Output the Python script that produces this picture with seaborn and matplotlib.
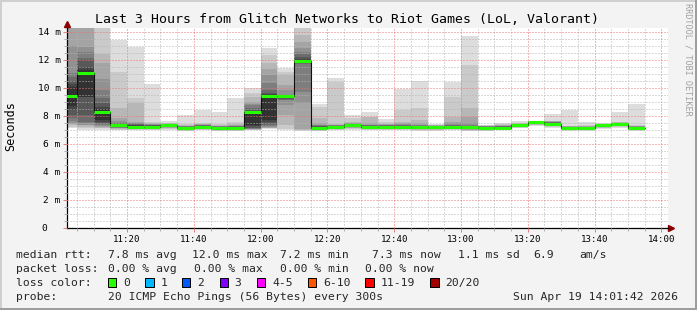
import numpy as np
import pandas as pd
import matplotlib
matplotlib.use("Agg")
import matplotlib.pyplot as plt
import seaborn as sns
from matplotlib.patches import Rectangle
from matplotlib.ticker import MultipleLocator, FixedLocator
from matplotlib.transforms import blended_transform_factory

sns.set_theme(style="white")
plt.rcParams['font.family'] = ['DejaVu Sans Mono', 'DejaVu Sans']

# ---------------- data ----------------
title = "Last 3 Hours from Glitch Networks to Riot Games (LoL, Valorant)"
# 5-minute intervals, minutes after 11:00
interval_start_min = list(range(0, 175, 5))
median_ms = [9.43, 11.08, 8.33, 7.35, 7.27, 7.27, 7.35, 7.20, 7.27, 7.20, 7.20, 8.28,
             9.43, 9.43, 11.94, 7.20, 7.27, 7.39, 7.27, 7.27, 7.27, 7.23, 7.23, 7.27,
             7.23, 7.20, 7.20, 7.35, 7.56, 7.47, 7.20, 7.20, 7.35, 7.44, 7.20]

# 20 ping rtts (ms) per interval
p_1100 = [7.15, 7.25, 7.35, 7.45, 7.55, 7.7, 7.86, 8.1, 8.45, 8.75, 10.1, 10.3, 10.5, 10.8, 11.1, 13.0, 14.6, 14.8, 15.0, 15.5]
p_1105 = [7.0, 7.15, 7.25, 7.35, 7.4, 7.5, 7.62, 8.1, 9.38, 9.4, 11.3, 11.55, 12.0, 12.2, 12.6, 12.98, 14.5, 14.6, 14.8, 15.0]
p_1110 = [7.05, 7.15, 7.2, 7.25, 7.3, 7.38, 7.45, 7.5, 7.6, 7.74, 8.5, 8.69, 8.93, 9.3, 9.9, 10.7, 11.8, 12.45, 14.5, 15.0]
p_1115 = [7.0, 7.05, 7.1, 7.15, 7.18, 7.2, 7.22, 7.25, 7.28, 7.3, 7.4, 7.42, 7.45, 7.5, 7.55, 7.7, 7.86, 8.57, 11.2, 13.45]
p_1120 = [7.0, 7.05, 7.1, 7.12, 7.15, 7.18, 7.2, 7.22, 7.24, 7.25, 7.32, 7.35, 7.4, 7.45, 7.5, 7.55, 7.62, 8.93, 9.29, 12.98]
p_1125 = [7.0, 7.05, 7.1, 7.12, 7.15, 7.18, 7.2, 7.22, 7.24, 7.25, 7.3, 7.32, 7.35, 7.38, 7.4, 7.42, 7.45, 7.5, 7.62, 10.3]
p_1130 = [7.05, 7.1, 7.15, 7.2, 7.22, 7.25, 7.28, 7.3, 7.32, 7.34, 7.37, 7.38, 7.4, 7.41, 7.42, 7.44, 7.46, 7.5, 7.55, 7.69]
p_1135 = [6.95, 6.98, 7.0, 7.03, 7.05, 7.08, 7.1, 7.12, 7.15, 7.18, 7.22, 7.24, 7.25, 7.26, 7.28, 7.3, 7.32, 7.35, 7.45, 8.08]
p_1140 = [7.0, 7.05, 7.1, 7.12, 7.15, 7.18, 7.2, 7.22, 7.24, 7.25, 7.3, 7.32, 7.34, 7.36, 7.38, 7.4, 7.42, 7.45, 7.55, 8.45]
p_1145 = [6.95, 6.98, 7.0, 7.03, 7.05, 7.08, 7.1, 7.12, 7.15, 7.18, 7.22, 7.24, 7.25, 7.26, 7.28, 7.3, 7.32, 7.35, 7.45, 8.29]
p_1150 = [6.95, 6.98, 7.0, 7.03, 7.05, 7.08, 7.1, 7.12, 7.15, 7.18, 7.22, 7.24, 7.25, 7.28, 7.3, 7.32, 7.35, 7.45, 7.62, 9.29]
p_1155 = [7.0, 7.02, 7.05, 7.08, 7.1, 7.12, 7.15, 7.2, 7.3, 7.38, 8.29, 8.35, 8.45, 8.6, 8.81, 8.9, 9.05, 9.4, 9.7, 10.05]
p_1200 = [7.1, 7.14, 7.17, 7.2, 7.25, 7.3, 7.38, 7.45, 7.6, 7.74, 9.52, 9.6, 9.7, 9.88, 10.36, 10.95, 11.4, 11.8, 12.38, 12.9]
p_1205 = [7.0, 7.1, 7.38, 8.1, 8.81, 9.15, 9.2, 9.25, 9.3, 9.38, 9.45, 9.47, 9.49, 9.5, 9.52, 9.88, 10.24, 10.95, 11.2, 11.43]
p_1210 = [6.95, 7.0, 7.05, 7.1, 8.93, 9.76, 11.75, 11.8, 11.85, 11.88, 12.0, 12.1, 12.26, 12.45, 12.62, 12.86, 13.33, 13.8, 14.6, 15.0]
p_1215 = [6.95, 6.98, 7.0, 7.02, 7.05, 7.08, 7.1, 7.12, 7.15, 7.18, 7.22, 7.25, 7.28, 7.3, 7.35, 7.4, 7.5, 7.86, 8.7, 8.88]
p_1220 = [7.0, 7.05, 7.1, 7.12, 7.15, 7.18, 7.2, 7.22, 7.24, 7.25, 7.28, 7.3, 7.32, 7.34, 7.36, 7.38, 7.4, 7.45, 10.48, 10.76]
p_1225 = [7.05, 7.1, 7.15, 7.2, 7.22, 7.25, 7.28, 7.3, 7.33, 7.36, 7.42, 7.44, 7.45, 7.46, 7.48, 7.5, 7.55, 7.6, 7.86, 8.1]
p_1230 = [7.0, 7.05, 7.1, 7.12, 7.15, 7.18, 7.2, 7.22, 7.24, 7.25, 7.3, 7.32, 7.34, 7.36, 7.38, 7.4, 7.5, 7.95, 7.98, 8.33]
p_1235 = [7.0, 7.05, 7.1, 7.12, 7.15, 7.18, 7.2, 7.22, 7.24, 7.25, 7.3, 7.32, 7.34, 7.36, 7.38, 7.4, 7.42, 7.45, 7.6, 7.81]
p_1240 = [7.0, 7.05, 7.1, 7.12, 7.15, 7.18, 7.2, 7.22, 7.24, 7.25, 7.3, 7.32, 7.34, 7.36, 7.38, 7.42, 7.5, 7.62, 8.45, 9.93]
p_1245 = [6.95, 7.0, 7.05, 7.08, 7.1, 7.12, 7.15, 7.18, 7.2, 7.22, 7.25, 7.28, 7.3, 7.33, 7.36, 7.4, 7.5, 7.74, 8.57, 10.52]
p_1250 = [6.95, 7.0, 7.05, 7.08, 7.1, 7.12, 7.15, 7.18, 7.2, 7.22, 7.25, 7.26, 7.28, 7.3, 7.32, 7.34, 7.36, 7.38, 7.4, 7.45]
p_1255 = [7.0, 7.05, 7.1, 7.12, 7.15, 7.18, 7.2, 7.22, 7.24, 7.25, 7.3, 7.32, 7.34, 7.36, 7.4, 7.5, 7.62, 7.98, 9.4, 10.48]
p_1300 = [6.95, 6.98, 7.0, 7.05, 7.08, 7.1, 7.12, 7.15, 7.18, 7.2, 7.25, 7.28, 7.3, 7.34, 7.4, 7.5, 7.98, 8.57, 11.67, 13.76]
p_1305 = [6.95, 6.97, 6.99, 7.0, 7.02, 7.05, 7.08, 7.1, 7.14, 7.17, 7.22, 7.24, 7.25, 7.26, 7.28, 7.3, 7.32, 7.34, 7.36, 7.38]
p_1310 = [7.0, 7.05, 7.1, 7.12, 7.14, 7.16, 7.17, 7.18, 7.19, 7.2, 7.22, 7.24, 7.26, 7.28, 7.3, 7.32, 7.35, 7.38, 7.42, 7.5]
p_1315 = [7.15, 7.2, 7.22, 7.25, 7.27, 7.28, 7.3, 7.32, 7.33, 7.34, 7.37, 7.39, 7.4, 7.42, 7.44, 7.46, 7.48, 7.5, 7.55, 7.67]
p_1320 = [7.3, 7.35, 7.4, 7.42, 7.44, 7.46, 7.48, 7.5, 7.52, 7.54, 7.58, 7.59, 7.6, 7.61, 7.62, 7.63, 7.64, 7.65, 7.66, 7.68]
p_1325 = [7.2, 7.25, 7.3, 7.33, 7.36, 7.38, 7.4, 7.42, 7.44, 7.45, 7.5, 7.52, 7.55, 7.58, 7.6, 7.62, 7.64, 7.66, 7.7, 8.14]
p_1330 = [6.95, 7.0, 7.05, 7.08, 7.1, 7.12, 7.15, 7.17, 7.18, 7.19, 7.22, 7.23, 7.24, 7.25, 7.26, 7.27, 7.28, 7.29, 7.3, 8.45]
p_1335 = [6.95, 7.0, 7.05, 7.08, 7.1, 7.12, 7.15, 7.17, 7.18, 7.19, 7.21, 7.22, 7.23, 7.24, 7.25, 7.26, 7.28, 7.3, 7.35, 7.57]
p_1340 = [7.1, 7.15, 7.2, 7.22, 7.25, 7.27, 7.29, 7.3, 7.32, 7.33, 7.37, 7.38, 7.39, 7.4, 7.41, 7.42, 7.43, 7.44, 7.46, 7.5]
p_1345 = [7.2, 7.25, 7.3, 7.33, 7.36, 7.38, 7.4, 7.41, 7.42, 7.43, 7.46, 7.47, 7.48, 7.49, 7.5, 7.52, 7.54, 7.56, 7.6, 8.3]
p_1350 = [6.95, 7.0, 7.05, 7.08, 7.1, 7.12, 7.15, 7.17, 7.18, 7.19, 7.22, 7.23, 7.24, 7.25, 7.26, 7.28, 7.3, 7.32, 7.36, 8.88]

pings = [p_1100, p_1105, p_1110, p_1115, p_1120, p_1125, p_1130, p_1135, p_1140, p_1145,
         p_1150, p_1155, p_1200, p_1205, p_1210, p_1215, p_1220, p_1225, p_1230, p_1235,
         p_1240, p_1245, p_1250, p_1255, p_1300, p_1305, p_1310, p_1315, p_1320, p_1325,
         p_1330, p_1335, p_1340, p_1345, p_1350]

x_tick_min = [20, 40, 60, 80, 100, 120, 140, 160, 180]
x_tick_labels = ["11:20", "11:40", "12:00", "12:20", "12:40", "13:00", "13:20", "13:40", "14:00"]
y_tick_ms = [0, 2, 4, 6, 8, 10, 12, 14]
y_tick_labels = ["0", "2 m", "4 m", "6 m", "8 m", "10 m", "12 m", "14 m"]

rtt_stats = ["7.8 ms avg", "12.0 ms max", "7.2 ms min", "7.3 ms now", "1.1 ms sd", "6.9", "am/s"]
loss_stats = ["0.00 % avg", "0.00 % max", "0.00 % min", "0.00 % now"]
loss_labels = ["0", "1", "2", "3", "4-5", "6-10", "11-19", "20/20"]
loss_colors = ["#26ff00", "#00b8ff", "#0059ff", "#7e00ff", "#ff00ff", "#ff5500", "#ff0000", "#a10000"]
probe_text = "20 ICMP Echo Pings (56 Bytes) every 300s"
stamp_text = "Sun Apr 19 14:01:42 2026"

# ---------------- figure ----------------
W, H = 697, 310
fig = plt.figure(figsize=(W / 100, H / 100), dpi=100, facecolor="#f3f3f3")

def fx(x):
    return x / W

def fy(y):
    return 1 - y / H

L, R, T, B = 67, 668, 28, 228.3
ax = fig.add_axes([fx(L), fy(B), (R - L) / W, (B - T) / H])
ax.set_facecolor("white")

starts = np.array(interval_start_min, dtype=float)
P = np.sort(np.array(pings, dtype=float), axis=1)
npings = P.shape[1]
half = npings // 2
for k in range(1, half + 1):
    g = int(190 / half * (half - k)) + 50
    col = "#%02x%02x%02x" % (g, g, g)
    lo = P[:, k - 1]
    hi = P[:, npings - k]
    ax.bar(starts, hi - lo, bottom=lo, width=5, align="edge", color=col,
           linewidth=0, antialiased=False, zorder=1)

med = np.array(median_ms)
med_df = pd.DataFrame({"t": np.append(starts, starts[-1] + 5), "rtt": np.append(med, med[-1])})
sns.lineplot(data=med_df, x="t", y="rtt", drawstyle="steps-post", color="#101010",
             lw=0.8, ax=ax, zorder=4)
ax.hlines(med, starts, starts + 5, colors=loss_colors[0], lw=2.2, zorder=5)

ax.set_xlim(2, 182)
ax.set_ylim(0, 14.31)
ax.set_xlabel("")
ax.set_ylabel("")

ax.xaxis.set_major_locator(FixedLocator(x_tick_min))
ax.xaxis.set_minor_locator(MultipleLocator(5))
ax.yaxis.set_major_locator(FixedLocator(y_tick_ms))
ax.yaxis.set_minor_locator(MultipleLocator(0.5))
ax.set_xticklabels(x_tick_labels)
ax.set_yticklabels([])
ax.set_axisbelow(False)
ax.grid(which="minor", color="#b4b4b4", ls=(0, (1, 2)), lw=0.72)
ax.grid(which="major", color="#f07070", ls=(0, (1, 2)), lw=0.72)

ax.tick_params(axis="both", which="both", direction="out", width=0.72)
ax.tick_params(axis="both", which="major", length=3, color="#e08080")
ax.tick_params(axis="both", which="minor", length=2.2, color="#b0b0b0")
ax.tick_params(axis="x", which="major", pad=1.5, labelsize=6.6, labelcolor="#000000")
ax.tick_params(axis="y", which="both", left=True)
ax.tick_params(axis="x", which="both", bottom=True)

for s in ["top", "right"]:
    ax.spines[s].set_visible(False)
for s in ["left", "bottom"]:
    ax.spines[s].set_color("black")
    ax.spines[s].set_linewidth(0.9)

# y tick labels (right aligned, "0" sits under the digit column)
ytr = blended_transform_factory(fig.transFigure, ax.transData)
for v, lab in zip(y_tick_ms, y_tick_labels):
    xr = 47.5 if lab == "0" else 60.5
    ax.text(fx(xr), v, lab, transform=ytr, ha="right", va="center",
            fontsize=6.8, color="black", clip_on=False)

# axis arrows
ax.plot([0, 0], [1.0, 1.02], transform=ax.transAxes, color="black", lw=0.9, clip_on=False)
ax.plot([0], [1.022], transform=ax.transAxes, marker="^", ms=4, color="#8b0000",
        clip_on=False, ls="none")
ax.plot([1.0, 1.006], [0, 0], transform=ax.transAxes, color="black", lw=0.9, clip_on=False)
ax.plot([1.005], [0], transform=ax.transAxes, marker=">", ms=4, color="#8b0000",
        clip_on=False, ls="none")

# texts
fig.text(fx(347), fy(23.3), title, ha="center", va="baseline", fontsize=9.5, color="black")
fig.text(fx(11), fy(126), "Seconds", rotation=90, ha="center", va="center", fontsize=8.5,
         color="black")
fig.text(fx(688), fy(59), "RRDTOOL / TOBI OETIKER", rotation=270, ha="center", va="center",
         fontsize=6.1, color="#a0a0a0")

LFS = 8.2
row_y = [258.3, 272.3, 286.4, 300.5]
fig.text(fx(15.6), fy(row_y[0]), "median rtt:", fontsize=LFS, va="baseline")
for s, x in zip(rtt_stats, [107.6, 192, 280, 372.4, 457.8, 533.3, 579.1]):
    fig.text(fx(x), fy(row_y[0]), s, fontsize=LFS, va="baseline")
fig.text(fx(15.6), fy(row_y[1]), "packet loss:", fontsize=LFS, va="baseline")
for s, x in zip(loss_stats, [107.6, 193.8, 280, 365.3]):
    fig.text(fx(x), fy(row_y[1]), s, fontsize=LFS, va="baseline")
fig.text(fx(15.6), fy(row_y[2]), "loss color:", fontsize=LFS, va="baseline")
sq_x = [108, 145.3, 181.8, 219.6, 256.9, 307.6, 365.3, 430.2]
lab_x = [123, 160.4, 196.9, 234.2, 272, 323.1, 380.4, 444.9]
for lab, c, sx, lx in zip(loss_labels, loss_colors, sq_x, lab_x):
    fig.add_artist(Rectangle((fx(sx), fy(286.7)), 8.4 / W, 8.4 / H, transform=fig.transFigure,
                             facecolor=c, edgecolor="black", lw=0.72))
    fig.text(fx(lx), fy(row_y[2]), lab, fontsize=LFS, va="baseline")
fig.text(fx(15.6), fy(row_y[3]), "probe:", fontsize=LFS, va="baseline")
fig.text(fx(107.6), fy(row_y[3]), probe_text, fontsize=LFS, va="baseline")
fig.text(fx(513.3), fy(row_y[3]), stamp_text, fontsize=LFS, va="baseline")

# image frame (shaded border)
fig.add_artist(Rectangle((0, fy(2)), 1, 2 / H, transform=fig.transFigure, color="#cfcfcf", lw=0))
fig.add_artist(Rectangle((0, 0), 2 / W, 1, transform=fig.transFigure, color="#cfcfcf", lw=0))
fig.add_artist(Rectangle((0, 0), 1, 2 / H, transform=fig.transFigure, color="#9e9e9e", lw=0))
fig.add_artist(Rectangle((fx(695), 0), 2 / W, 1, transform=fig.transFigure, color="#9e9e9e", lw=0))

fig.savefig("out.png", dpi=100, facecolor=fig.get_facecolor())
